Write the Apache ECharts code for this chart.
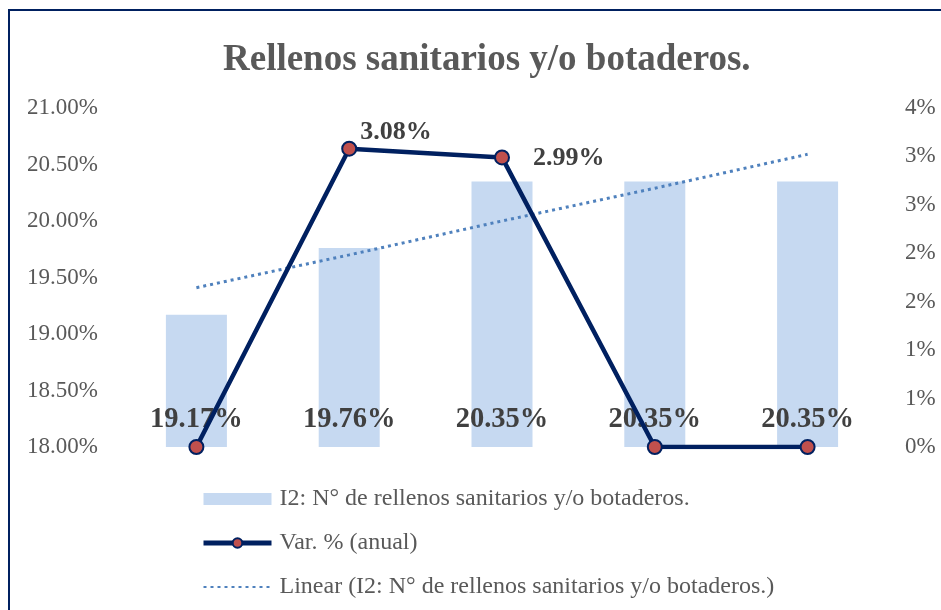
<!DOCTYPE html>
<html>
<head>
<meta charset="utf-8">
<script src="https://cdn.jsdelivr.net/npm/echarts@6/dist/echarts.min.js"></script>
<style>
  html, body { margin: 0; padding: 0; background: #fff; overflow: hidden; }
  #frame { position: absolute; left: 8px; top: 9px; width: 1000px; height: 700px; border: 2px solid #002060; }
  #chart { position: absolute; left: -10px; top: -11px; width: 941px; height: 610px; }
</style>
</head>
<body>
<div id="frame"><div id="chart"></div></div>
<script>
  // datos
  const categories = ['2019', '2020', '2021', '2022', '2023']
  const rellenos = [19.17, 19.76, 20.35, 20.35, 20.35]
  const variacion = [0, 3.08, 2.99, 0, 0]
  const tendencia = [19.41, 19.70, 20.00, 20.29, 20.59]

  const serif = '"Liberation Serif", "Times New Roman", serif'
  const gris = '#595959'
  const nBarra = 'I2: N° de rellenos sanitarios y/o botaderos.'
  const nVar = 'Var. % (anual)'
  const nLineal = 'Linear (I2: N° de rellenos sanitarios y/o botaderos.)'

  const chart = echarts.init(document.getElementById('chart'))
  chart.setOption({
    title: {
      text: 'Rellenos sanitarios y/o botaderos.',
      left: 218,
      top: 37,
      textStyle: { fontFamily: serif, fontSize: 37, fontWeight: 'bold', color: gris }
    },
    legend: {
      orient: 'vertical',
      left: 196,
      top: 482,
      itemWidth: 68,
      itemHeight: 12,
      itemGap: 20,
      textStyle: { fontFamily: serif, fontSize: 24, color: gris, padding: [0, 0, 0, 3] },
      data: [
        { name: nBarra, icon: 'rect' },
        { name: nVar, lineStyle: { width: 5 } },
        { name: nLineal, itemStyle: { opacity: 0 } }
      ]
    },
    grid: { left: 120, right: 57, top: 108, bottom: 163 },
    xAxis: {
      type: 'category',
      data: categories,
      axisLine: { show: false },
      axisTick: { show: false },
      axisLabel: { show: false }
    },
    yAxis: [
      {
        type: 'value',
        min: 18,
        max: 21,
        interval: 0.5,
        splitLine: { show: false },
        axisLine: { show: false },
        axisTick: { show: false },
        axisLabel: {
          margin: 22,
          fontFamily: serif,
          fontSize: 23,
          color: gris,
          formatter: v => v.toFixed(2) + '%'
        }
      },
      {
        type: 'value',
        min: 0,
        max: 3.5,
        interval: 0.5,
        splitLine: { show: false },
        axisLine: { show: false },
        axisTick: { show: false },
        axisLabel: {
          margin: 21,
          fontFamily: serif,
          fontSize: 23,
          color: gris,
          formatter: v => Math.round(v) + '%'
        }
      }
    ],
    series: [
      {
        name: nBarra,
        type: 'bar',
        data: rellenos,
        barWidth: 61,
        itemStyle: { color: '#c6d9f1' },
        label: {
          show: true,
          position: 'insideBottom',
          distance: 13,
          fontFamily: serif,
          fontSize: 28.5,
          fontWeight: 'bold',
          color: '#404040',
          formatter: p => p.value.toFixed(2) + '%'
        }
      },
      {
        name: nVar,
        type: 'line',
        yAxisIndex: 1,
        data: variacion.map((v, i) => ({
          value: v,
          label: i === 1 ? { position: 'right', distance: 3, offset: [0, -16] }
               : i === 2 ? { position: 'right', distance: 23, offset: [0, 1] } : {}
        })),
        symbol: 'circle',
        symbolSize: 14,
        lineStyle: { color: '#002060', width: 4.5 },
        itemStyle: { color: '#c0504d', borderColor: '#002060', borderWidth: 2 },
        label: {
          show: true,
          fontFamily: serif,
          fontSize: 26,
          fontWeight: 'bold',
          color: '#404040',
          formatter: p => p.value > 0 ? p.value.toFixed(2) + '%' : ''
        },
        z: 5
      },
      {
        name: nLineal,
        type: 'line',
        data: tendencia,
        symbol: 'none',
        lineStyle: { color: '#4f81bd', width: 3, type: [3, 4] },
        itemStyle: { color: '#4f81bd' },
        z: 4
      }
    ]
  })
</script>
</body>
</html>
